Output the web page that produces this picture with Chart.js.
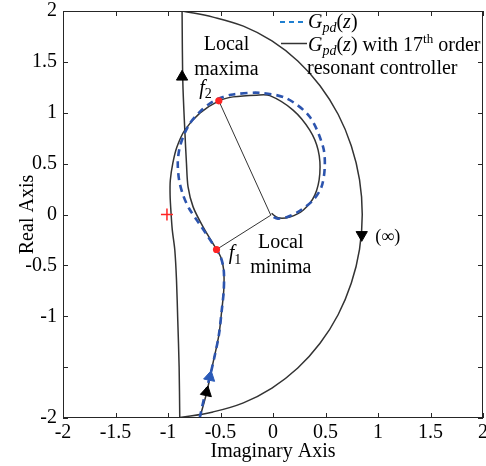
<!DOCTYPE html>
<html><head><meta charset="utf-8">
<script src="https://cdn.jsdelivr.net/npm/chart.js@4.4.1/dist/chart.umd.min.js"></script>
<style>html,body{margin:0;padding:0;background:#fff;}#wrap{width:486px;height:466px;position:relative;}</style>
</head><body><div id="wrap"><canvas id="c" width="486" height="466"></canvas></div>
<script>
// ---- tick values and labels ----
const xTickValues = [-2,-1.5,-1,-0.5,0,0.5,1,1.5,2];
const xTickLabels = ['-2','-1.5','-1','-0.5','0','0.5','1','1.5','2'];
const yTickValues = [-2,-1.5,-1,-0.5,0,0.5,1,1.5,2];
const yTickLabels = ['-2','','-1','-0.5','0','0.5','1','1.5','2'];

// ---- G_pd(z) (blue dashed) ----
const gpdX = [-0.698,-0.65,-0.602,-0.554,-0.516,-0.488,-0.469,-0.469,-0.497,-0.538,-0.618,-0.713,-0.799,-0.856,-0.894,-0.907,-0.894,-0.856,-0.792,-0.697,-0.602,-0.49,-0.38,-0.126,0.129,0.35,0.477,0.493,0.462,0.382,0.255,0.141,0.046,-0.011];
const gpdY = [-2.0,-1.777,-1.597,-1.383,-1.187,-0.941,-0.745,-0.549,-0.42,-0.344,-0.22,-0.073,0.059,0.19,0.337,0.501,0.632,0.763,0.895,1.009,1.091,1.15,1.18,1.196,1.141,0.96,0.665,0.468,0.271,0.141,0.037,-0.022,-0.041,-0.017];

// ---- G_pd(z) with 17th order resonant controller (black) ----
// branch 1: bottom -> f1 -> inner path -> top
const res1X = [-0.698,-0.633,-0.58,-0.516,-0.488,-0.469,-0.469,-0.497,-0.538,-0.666,-0.761,-0.809,-0.824,-0.84,-0.859,-0.866];
const res1Y = [-2.0,-1.757,-1.5,-1.187,-0.941,-0.745,-0.549,-0.42,-0.344,-0.122,0.075,0.271,0.5,0.829,1.31,2.0];
// branch 2: arc at infinity, top -> bottom
const res2X = [-0.866,-0.571,-0.282,-0.01,0.236,0.448,0.62,0.746,0.824,0.85,0.824,0.746,0.62,0.448,0.236,-0.01,-0.282,-0.571,-0.887];
const res2Y = [2.0,1.94,1.851,1.706,1.509,1.266,0.985,0.674,0.342,0.0,-0.342,-0.674,-0.985,-1.266,-1.509,-1.706,-1.851,-1.94,-1.996];
// branch 3: bottom -> outer left -> f2 -> loop
const res3X = [-0.888,-0.894,-0.907,-0.919,-0.935,-0.959,-0.971,-0.98,-0.978,-0.954,-0.916,-0.84,-0.697,-0.516,-0.38,-0.157,-0.03,0.191,0.35,0.43,0.446,0.398,0.287,0.16,0.049,-0.014];
const res3Y = [-1.998,-1.5,-1.04,-0.646,-0.351,-0.154,0.013,0.19,0.337,0.504,0.66,0.829,0.996,1.117,1.156,1.173,1.168,1.026,0.829,0.632,0.403,0.19,0.042,-0.024,-0.033,0.01];

// ---- special points ----
const fPointsX = [-0.538,-0.516];   // f1, f2
const fPointsY = [-0.344,1.117];
const radiusX = [-0.516,-0.021,-0.538]; // f2 -> centre -> f1
const radiusY = [1.117,-0.007,-0.344];
const critX = [-1.01];
const critY = [0.0];
const arrowBlackX = [-0.866,0.845,-0.633];
const arrowBlackY = [1.353,-0.2,-1.748];
const arrowBlueX = [-0.602];
const arrowBlueY = [-1.597];

const pts = (xs, ys) => xs.map((x,i)=>({x:x, y:ys[i]}));
const FONT = '"Liberation Serif", "Times New Roman", serif';
const DARK = '#333333';
const BLUE = '#2c54ae';
const RED = '#ff2424';

function rich(ctx, x, y, parts, align) {
  let w = 0;
  const ms = parts.map(p => {
    ctx.font = (p.it ? 'italic ' : '') + (p.sz || 20) + 'px ' + FONT;
    const m = ctx.measureText(p.t).width; w += m; return m;
  });
  let cx = align === 'center' ? x - w/2 : x;
  parts.forEach((p,i) => {
    ctx.font = (p.it ? 'italic ' : '') + (p.sz || 20) + 'px ' + FONT;
    ctx.fillText(p.t, cx, y + (p.dy || 0));
    cx += ms[i];
  });
}

const decor = {
  id: 'decor',
  afterDraw(chart) {
    const ctx = chart.ctx, a = chart.chartArea;
    const xs = chart.scales.x, ys = chart.scales.y;
    ctx.save();
    // frame
    ctx.strokeStyle = '#262626'; ctx.lineWidth = 1;
    ctx.strokeRect(Math.round(a.left)+0.5, Math.round(a.top)+0.5, Math.round(a.right-a.left)-1, Math.round(a.bottom-a.top)-1);
    // inward ticks on all sides
    ctx.beginPath();
    xTickValues.forEach(v => {
      const p = Math.round(xs.getPixelForValue(v)) + 0.5;
      ctx.moveTo(p, a.bottom); ctx.lineTo(p, a.bottom - 5);
      ctx.moveTo(p, a.top); ctx.lineTo(p, a.top + 5);
    });
    yTickValues.forEach(v => {
      const p = Math.round(ys.getPixelForValue(v)) + 0.5;
      ctx.moveTo(a.left, p); ctx.lineTo(a.left + 5, p);
      ctx.moveTo(a.right, p); ctx.lineTo(a.right - 5, p);
    });
    ctx.stroke();

    // annotations
    ctx.fillStyle = '#000';
    ctx.textBaseline = 'alphabetic';
    const X = v => xs.getPixelForValue(v), Y = v => ys.getPixelForValue(v);
    rich(ctx, X(-0.443), Y(1.616), [{t:'Local'}], 'center');
    rich(ctx, X(-0.443), Y(1.37), [{t:'maxima'}], 'center');
    rich(ctx, X(0.074), Y(-0.331), [{t:'Local'}], 'center');
    rich(ctx, X(0.074), Y(-0.577), [{t:'minima'}], 'center');
    rich(ctx, X(-0.702), Y(1.183), [{t:'f', it:true}, {t:'2', sz:14, dy:4}], 'left');
    rich(ctx, X(-0.421), Y(-0.44), [{t:'f', it:true}, {t:'1', sz:14, dy:5}], 'left');
    rich(ctx, X(1.093), Y(-0.272), [{t:'(\u221E)', sz:18}], 'center');

    // legend
    const lx = a.left + 217;
    ctx.setLineDash([5,4]); ctx.strokeStyle = '#1f7fd0'; ctx.lineWidth = 2;
    ctx.beginPath(); ctx.moveTo(lx, 22); ctx.lineTo(lx + 25, 22); ctx.stroke();
    ctx.setLineDash([]); ctx.strokeStyle = DARK; ctx.lineWidth = 1.5;
    ctx.beginPath(); ctx.moveTo(lx + 1, 43.5); ctx.lineTo(lx + 27, 43.5); ctx.stroke();
    const tx = lx + 28;
    const gpd = [{t:'G', it:true}, {t:'pd', it:true, sz:14, dy:4}, {t:'('}, {t:'z', it:true}, {t:')'}];
    rich(ctx, tx, 28, gpd, 'left');
    rich(ctx, tx, 51, gpd.concat([{t:' with 17'}, {t:'th', sz:13, dy:-8}, {t:' order'}]), 'left');
    rich(ctx, tx - 1, 74, [{t:'resonant controller'}], 'left');
    ctx.restore();
  }
};

const lineDs = (label, data, color, width, dash, order, tension) => ({
  label, data, showLine: true, borderColor: color, borderWidth: width, borderDash: dash,
  pointRadius: 0, tension: tension, fill: false, order
});

new Chart(document.getElementById('c'), {
  type: 'scatter',
  data: {
    datasets: [
      lineDs('radius lines', pts(radiusX, radiusY), DARK, 1, [], 4, 0),
      lineDs('G_pd(z) with 17th order resonant controller', pts(res1X, res1Y), DARK, 1.5, [], 3, 0.3),
      lineDs('arc', pts(res2X, res2Y), DARK, 1.5, [], 3, 0.4),
      lineDs('outer', pts(res3X, res3Y), DARK, 1.5, [], 3, 0.3),
      lineDs('G_pd(z)', pts(gpdX, gpdY), BLUE, 2.6, [7,5], 2, 0.3),
      { label:'arrows black', data: pts(arrowBlackX, arrowBlackY), pointStyle:'triangle',
        pointRadius: 6.5, pointRotation: [0,180,12], backgroundColor:'#000', borderColor:'#000', borderWidth:1, order:1 },
      { label:'arrow blue', data: pts(arrowBlueX, arrowBlueY), pointStyle:'triangle',
        pointRadius: 6.5, pointRotation: [12], backgroundColor:'#2a5ab8', borderColor:'#2a5ab8', borderWidth:1, order:1 },
      { label:'f points', data: pts(fPointsX, fPointsY), pointStyle:'circle', pointRadius: 3.6,
        backgroundColor: RED, borderColor: RED, borderWidth: 0, order: 0 },
      { label:'-1', data: pts(critX, critY), pointStyle:'cross', pointRadius: 6,
        borderColor: RED, borderWidth: 1.5, order: 0 }
    ]
  },
  options: {
    responsive: false, animation: false, devicePixelRatio: 1,
    layout: { autoPadding: false, padding: { top: 11, right: 3, left: 0, bottom: 0 } },
    plugins: { legend: { display: false }, tooltip: { enabled: false } },
    scales: {
      x: {
        type: 'linear', min: -2, max: 2, position: 'bottom',
        afterBuildTicks: s => { s.ticks = xTickValues.map(v => ({ value: v })); },
        ticks: { callback: v => xTickLabels[xTickValues.indexOf(v)], font: { family: FONT, size: 20 }, color: '#000', padding: 3, maxRotation: 0, autoSkip: false },
        grid: { display: false, drawTicks: false }, border: { display: false },
        title: { display: true, text: 'Imaginary Axis', color: '#000', font: { family: FONT, size: 20 }, padding: { top: 0, bottom: 2 } },
        afterFit: s => { s.height = 48; s.paddingLeft = 0; s.paddingRight = 0; }
      },
      y: {
        type: 'linear', min: -2, max: 2, position: 'left',
        afterBuildTicks: s => { s.ticks = yTickValues.map(v => ({ value: v })); },
        ticks: { callback: v => yTickLabels[yTickValues.indexOf(v)], font: { family: FONT, size: 20 }, color: '#000', padding: 6, autoSkip: false },
        grid: { display: false, drawTicks: false }, border: { display: false },
        title: { display: true, text: 'Real Axis', color: '#000', font: { family: FONT, size: 20 }, padding: { top: 16, bottom: 0 } },
        afterFit: s => { s.width = 63; s.paddingTop = 0; s.paddingBottom = 0; }
      }
    }
  },
  plugins: [decor]
});
</script></body></html>
